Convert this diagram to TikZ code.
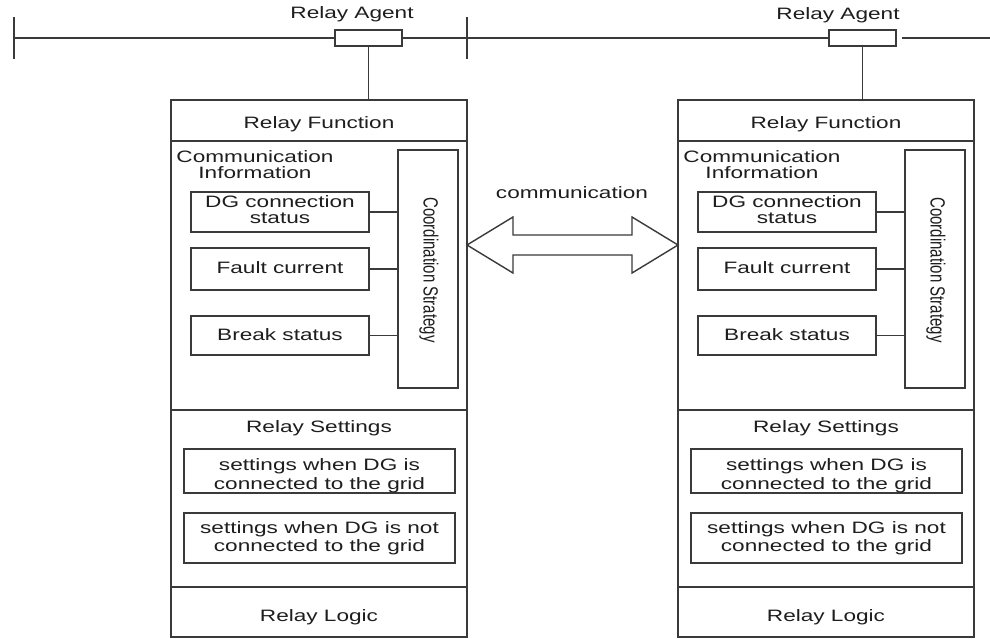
\documentclass[tikz,border=0pt]{standalone}
\usepackage{fontspec}
\usepackage{graphicx}
\setmainfont{Liberation Sans}[FakeStretch=1.37]
\newfontfamily\uprightsans{Liberation Sans}

\definecolor{ink}{HTML}{3A3A3A}
\definecolor{txt}{HTML}{1E1E1E}

\tikzset{
  frame/.style={draw=ink, line width=1.4pt, fill=white, inner sep=0pt, outer sep=0pt},
  wire/.style={draw=ink, line width=1.4pt},
  lbl/.style={text=txt, font=\fontsize{16.5}{17.5}\selectfont, align=center, inner sep=0pt},
}

% One relay unit: #1 = name prefix, #2 = horizontal offset of the unit box.
% Two-line labels are anchored at the baseline of their last line.
\newcommand\relayunit[2]{%
\begin{scope}[xshift=#2]
  \node[frame, anchor=north west, minimum width=296pt, minimum height=537pt] (#1box) at (171,100) {};
  \draw[wire] (171,141) -- (467,141);
  \draw[wire] (171,410) -- (467,410);
  \draw[wire] (171,587) -- (467,587);
  \node[lbl, anchor=base] (#1func) at (319,128) {Relay Function};
  \node[lbl, anchor=base, font=\fontsize{16.5}{16}\selectfont] (#1info) at (255,178) {Communication\\Information};
  \node[frame, anchor=north west, minimum width=60pt, minimum height=238pt] (#1coord) at (398,150) {};
  \node[lbl, font=\fontsize{15}{17.5}\selectfont\uprightsans] (#1coordtxt) at (429,270)
       {\scalebox{1.37}[1]{\rotatebox{-90}{Coordination Strategy}}};
  \node[frame, minimum width=178pt, minimum height=40pt] (#1dg) at (280,212) {};
  \node[frame, minimum width=178pt, minimum height=42pt] (#1fault) at (280,269) {};
  \node[frame, minimum width=178pt, minimum height=39pt] (#1break) at (280,335.5) {};
  \node[lbl, anchor=base, font=\fontsize{16.5}{16}\selectfont] (#1dgtxt) at (#1dg.center |- 0,223) {DG connection\\status};
  \node[lbl, anchor=base] (#1faulttxt) at (#1fault.center |- 0,273) {Fault current};
  \node[lbl, anchor=base] (#1breaktxt) at (#1break.center |- 0,340) {Break status};
  \draw[wire] (#1dg.east) -- (#1dg.east -| #1coord.west);
  \draw[wire] (#1fault.east) -- (#1fault.east -| #1coord.west);
  \draw[wire] (#1break.east) -- (#1break.east -| #1coord.west);
  \node[lbl, anchor=base] (#1set) at (319,432) {Relay Settings};
  \node[frame, minimum width=271pt, minimum height=44pt] (#1on) at (319.5,471) {};
  \node[frame, minimum width=271pt, minimum height=50pt] (#1off) at (319.5,538) {};
  \node[lbl, anchor=base, font=\fontsize{16.5}{19}\selectfont] (#1ontxt) at (#1on.center |- 0,489) {settings when DG is\\connected to the grid};
  \node[lbl, anchor=base, font=\fontsize{16.5}{18}\selectfont] (#1offtxt) at (#1off.center |- 0,551) {settings when DG is not\\connected to the grid};
  \node[lbl, anchor=base] (#1logic) at (319,621) {Relay Logic};
\end{scope}}

\begin{document}
\begin{tikzpicture}[x=1pt, y=-1pt]
  \useasboundingbox (0,0) rectangle (990,638);
  \fill[white] (0,0) rectangle (990,638);

  % feeder line with bus bars
  \coordinate (busL) at (14,38);
  \coordinate (busEnd) at (990,38);
  \coordinate (gapStart) at (902,38);
  \draw[ink, line width=2.6pt] (14,17) -- (14,59);
  \draw[ink, line width=1.5pt] (467,17) -- (467,59);

  % relay agents on the line
  \node[frame, minimum width=67pt, minimum height=16pt] (agentL) at (368.5,38) {};
  \node[frame, minimum width=67pt, minimum height=16pt] (agentR) at (862.5,38) {};
  \node[lbl, anchor=base] (agentLtxt) at (352,18.5) {Relay Agent};
  \node[lbl, anchor=base] (agentRtxt) at (838,19) {Relay Agent};

  \draw[wire] (busL) -- (agentL.west);
  \draw[wire] (agentL.east) -- (agentR.west);
  \draw[wire] (gapStart) -- (busEnd);

  % the two relay units
  \relayunit{L}{0pt}
  \relayunit{R}{507pt}

  % stems from agents to units
  \draw[wire] (agentL.south) -- (agentL.south |- Lbox.north);
  \draw[wire] (agentR.south) -- (agentR.south |- Rbox.north);

  % communication link between the units
  \draw[frame, line join=miter]
    (Lbox.east |- 0,245) -- (513,217) -- (513,235) -- (632,235) -- (632,217)
    -- (Rbox.west |- 0,245) -- (632,273) -- (632,255) -- (513,255) -- (513,273) -- cycle;
  \node[lbl, anchor=base] (commtxt) at (572,198) {communication};
\end{tikzpicture}
\end{document}
